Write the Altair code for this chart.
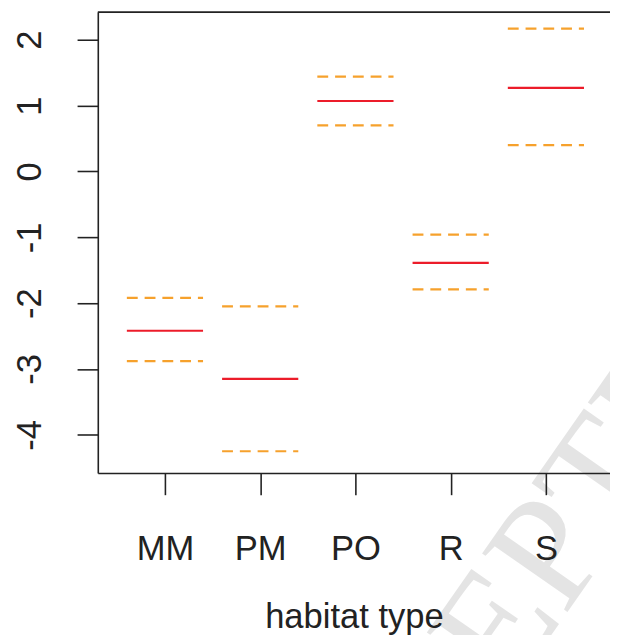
import json
import altair as alt
import pandas as pd

habitats = ["MM", "PM", "PO", "R", "S"]
estimate = [-2.42, -3.15, 1.07, -1.39, 1.27]
upper = [-1.92, -2.05, 1.44, -0.96, 2.17]
lower = [-2.88, -4.25, 0.70, -1.79, 0.40]
y_ticks = [-4, -3, -2, -1, 0, 1, 2]

HALF = 0.4
X_DOMAIN = [0.295, 5.673]
Y_DOMAIN = [-4.58, 2.42]

rows = []
for i, h in enumerate(habitats):
    pos = i + 1
    rows.append({"habitat": h, "pos": pos, "x0": pos - HALF, "x1": pos + HALF,
                 "est": estimate[i], "lo": lower[i], "hi": upper[i]})
df = pd.DataFrame(rows)

label_expr = json.dumps(habitats) + "[datum.value - 1]"

FONT = "Liberation Sans"

xscale = alt.Scale(domain=X_DOMAIN, nice=False, zero=False)
yscale = alt.Scale(domain=Y_DOMAIN, nice=False, zero=False)

x_axis = alt.Axis(values=list(range(1, len(habitats) + 1)), labelExpr=label_expr,
                  title="habitat type", grid=False, domain=True, domainColor="#222222",
                  domainWidth=1.6, tickColor="#222222", tickWidth=1.6, tickSize=22,
                  labelFont=FONT, labelFontSize=35, labelColor="#222222",
                  labelPadding=38, labelOverlap=False, titleFont=FONT, titleFontSize=35,
                  titleFontWeight="normal", titleColor="#222222", titlePadding=34,
                  zindex=1)
y_axis = alt.Axis(values=y_ticks, labelExpr="toString(datum.value)", title=None,
                  grid=False, domain=True,
                  domainColor="#222222", domainWidth=1.6, tickColor="#222222",
                  tickWidth=1.6, tickSize=21, labelFont=FONT, labelFontSize=35,
                  labelColor="#222222", labelAngle=270, labelAlign="center",
                  labelBaseline="bottom", labelPadding=30, labelOverlap=False,
                  zindex=1)

base = alt.Chart(df)

watermark = alt.Chart(pd.DataFrame({"t": ["ACCEPTED MANUSCRIPT"]})).mark_text(
    font="Liberation Serif", fontSize=160, color="#e4e4e4", angle=305,
    align="left", baseline="alphabetic"
).encode(text="t:N", x=alt.value(228), y=alt.value(962))

hi_rule = base.mark_rule(color="#F6A12C", strokeWidth=2.2, strokeDash=[11, 7]).encode(
    x=alt.X("x0:Q", scale=xscale, axis=x_axis),
    x2="x1:Q",
    y=alt.Y("hi:Q", scale=yscale, axis=y_axis),
)
lo_rule = base.mark_rule(color="#F6A12C", strokeWidth=2.2, strokeDash=[11, 7]).encode(
    x=alt.X("x0:Q", scale=xscale), x2="x1:Q", y=alt.Y("lo:Q", scale=yscale))
est_rule = base.mark_rule(color="#EC1C2A", strokeWidth=2.2).encode(
    x=alt.X("x0:Q", scale=xscale), x2="x1:Q", y=alt.Y("est:Q", scale=yscale))

top_border = alt.Chart(pd.DataFrame({"v": [Y_DOMAIN[1]]})).mark_rule(
    color="#222222", strokeWidth=1.6).encode(y=alt.Y("v:Q", scale=yscale))

chart = alt.layer(watermark, hi_rule, lo_rule, est_rule, top_border).properties(
    width=519, height=467,
    autosize=alt.AutoSizeParams(type="none"),
    padding={"left": 91, "top": 0, "right": 0, "bottom": 160},
).configure_view(stroke=None).configure(background="white")

chart.save("out.html", embed_options={"renderer": "svg", "actions": False})
